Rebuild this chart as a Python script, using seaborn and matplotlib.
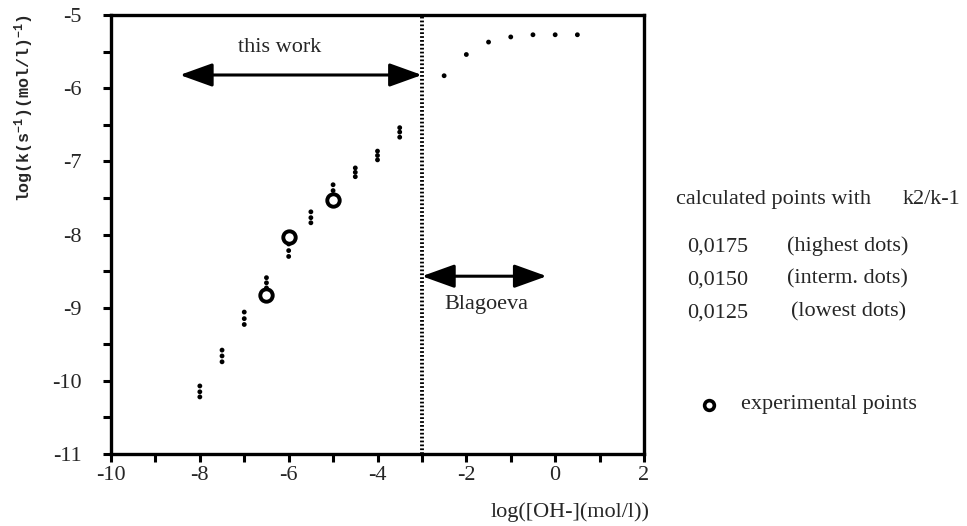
import numpy as np
import pandas as pd
import matplotlib
matplotlib.use("Agg")
import matplotlib.pyplot as plt
import seaborn as sns

# ---- data ----
x_calc = [-8.0, -7.5, -7.0, -6.5, -6.0, -5.5, -5.0, -4.5, -4.0, -3.5]
calc_high = [-10.07, -9.58, -9.06, -8.59, -8.13, -7.69, -7.32, -7.09, -6.86, -6.54]
calc_mid = [-10.15, -9.66, -9.15, -8.66, -8.22, -7.77, -7.40, -7.15, -6.92, -6.60]
calc_low = [-10.22, -9.74, -9.23, -8.73, -8.30, -7.84, -7.48, -7.21, -6.98, -6.67]

x_sat = [-2.5, -2.0, -1.5, -1.0, -0.5, 0.0, 0.5]
y_sat = [-5.83, -5.54, -5.37, -5.30, -5.27, -5.27, -5.27]

x_exp = [-6.5, -6.0, -5.0]
y_exp = [-8.83, -8.03, -7.53]

x_ticks = [-10, -8, -6, -4, -2, 0, 2]
y_ticks = [-5, -6, -7, -8, -9, -10, -11]

legend_vals = ["0,0175", "0,0150", "0,0125"]
legend_desc = ["(highest dots)", "(interm. dots)", "(lowest dots)"]

# ---- style ----
sns.set_theme(style="ticks")
plt.rcParams["font.family"] = ["Liberation Serif", "DejaVu Serif"]
plt.rcParams["axes.unicode_minus"] = False
plt.rcParams["mathtext.fontset"] = "custom"
plt.rcParams["mathtext.rm"] = "Liberation Mono:bold"
plt.rcParams["mathtext.it"] = "Liberation Mono:bold"
plt.rcParams["mathtext.bf"] = "Liberation Mono:bold"

W, H = 967, 526
fig = plt.figure(figsize=(W / 100, H / 100), dpi=100)
ax = fig.add_axes([111 / W, 1 - 454 / H, (644 - 111) / W, (454 - 15) / H])

calc_df = pd.DataFrame({
    "x": x_calc * 3 + x_sat,
    "y": calc_high + calc_mid + calc_low + y_sat,
})
exp_df = pd.DataFrame({"x": x_exp, "y": y_exp})

sns.scatterplot(data=calc_df, x="x", y="y", ax=ax, s=12, color="black",
                edgecolor="none", legend=False, zorder=3)
sns.scatterplot(data=exp_df, x="x", y="y", ax=ax, s=80, marker="o",
                facecolor="white", edgecolor="black", linewidth=2.8,
                legend=False, zorder=4)

ax.set_xlim(-10, 2)
ax.set_ylim(-11, -5)
ax.set_xticks(x_ticks)
ax.set_xticks(np.arange(-9, 2, 2), minor=True)
ax.set_yticks(y_ticks)
ax.set_yticks(np.arange(-10.5, -5, 1), minor=True)
ax.set_xticklabels([str(v) for v in x_ticks])
ax.set_yticklabels([str(v) for v in y_ticks])
ax.set_xlabel("")
ax.set_ylabel("")

for sp in ax.spines.values():
    sp.set_visible(True)
    sp.set_linewidth(2.4)
    sp.set_color("black")

ax.tick_params(axis="both", which="both", direction="out", length=6,
               width=2.2, color="black")
ax.tick_params(axis="x", which="major", labelsize=16, pad=3)
ax.tick_params(axis="y", which="major", labelsize=16, pad=15)

# vertical dotted divider
ax.axvline(-3, color="black", lw=2.8, linestyle=(0, (0.45, 0.55)), zorder=2)

# double arrows
arrow_kw = dict(arrowstyle="<|-|>,head_length=1.0,head_width=0.36",
                color="black", lw=2.2, mutation_scale=20,
                shrinkA=0, shrinkB=0)
ax.annotate("", xy=(-3.0, -5.82), xytext=(-8.45, -5.82), arrowprops=arrow_kw)
ax.annotate("", xy=(-0.19, -8.57), xytext=(-3.0, -8.57), arrowprops=arrow_kw)
ax.text(-6.2, -5.45, "this work", ha="center", va="center", fontsize=16)
ax.text(-1.55, -8.96, "Blagoeva", ha="center", va="center", fontsize=16)

# axis labels
fig.text(24 / W, 1 - 108 / H, r"log(k(s$^{-1}$)(mol/l)$^{-1}$)",
         rotation=90, ha="center", va="center", fontsize=12,
         family="Liberation Mono", weight="bold")
fig.text(570 / W, 1 - 512 / H, "log([OH-](mol/l))", ha="center",
         va="center", fontsize=16)

# right-hand annotation block
def ftxt(px, py, s, **kw):
    fig.text(px / W, 1 - py / H, s, va="center", fontsize=16, **kw)

ftxt(676, 200, "calculated points with")
ftxt(903, 200, "k2/k-1")
desc_x = [787, 787, 791]
for i, (v, d) in enumerate(zip(legend_vals, legend_desc)):
    yy = 247 + 33 * i
    ftxt(687, yy, v)
    ftxt(desc_x[i], yy - 1, d)

fig.add_artist(plt.Line2D([709 / W], [1 - 405 / H], marker="o",
                          markersize=7, markerfacecolor="white",
                          markeredgecolor="black", markeredgewidth=2.6,
                          transform=fig.transFigure))
ftxt(741, 405, "experimental points")

fig.savefig("out.png", dpi=100)
